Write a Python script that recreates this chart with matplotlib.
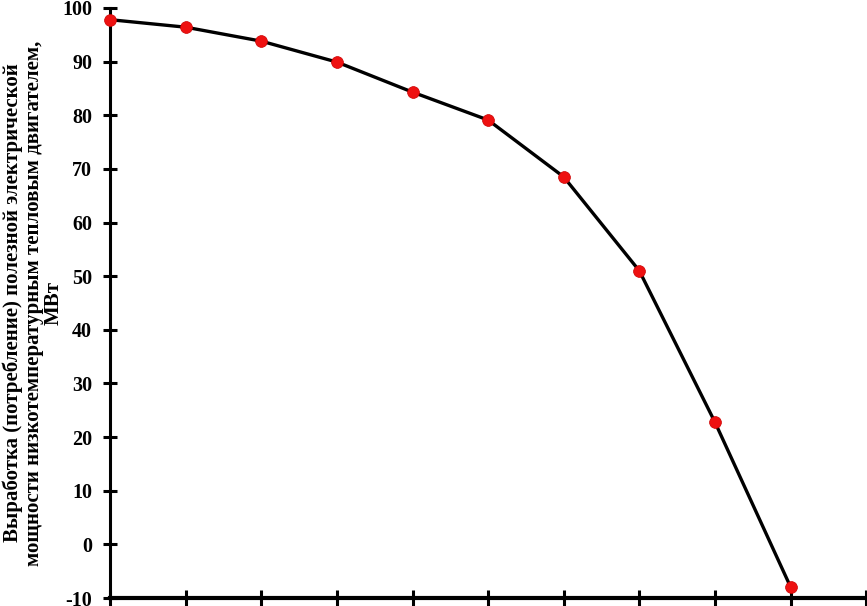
import matplotlib
matplotlib.use('Agg')
import matplotlib.pyplot as plt

# data
x_points = [0, 1, 2, 3, 4, 5, 6, 7, 8, 9]
power_mw = [97.8, 96.4, 93.8, 89.9, 84.3, 79.1, 68.5, 51.0, 22.8, -7.9]
y_ticks = [-10, 0, 10, 20, 30, 40, 50, 60, 70, 80, 90, 100]
y_label = ('Выработка (потребление) полезной электрической\n'
           'мощности низкотемпературным тепловым двигателем,\n'
           'МВт')

plt.rcParams['font.family'] = ['Liberation Serif', 'DejaVu Serif']
plt.rcParams['font.weight'] = 'bold'

fig = plt.figure(figsize=(8.67, 6.06), dpi=100)
ax = fig.add_axes([0.127, 0.013, 0.872, 0.974])

ax.plot(x_points, power_mw, color='black', linewidth=2.4, zorder=2)
ax.plot(x_points, power_mw, linestyle='none', marker='o', markersize=8.5,
        markerfacecolor='#ee1111', markeredgecolor='#cc0000', markeredgewidth=0.5,
        zorder=3, clip_on=False)

ax.set_xlim(0, 10)
ax.set_ylim(-10, 100)
ax.set_xticks(range(0, 11))
ax.set_xticklabels([])
ax.set_yticks(y_ticks)
ax.set_yticklabels([str(v) for v in y_ticks], fontsize=14.5, fontweight='bold')

ax.spines['top'].set_visible(False)
ax.spines['right'].set_visible(False)
ax.spines['left'].set_linewidth(2.2)
ax.spines['bottom'].set_linewidth(3)
ax.tick_params(axis='y', direction='inout', length=10, width=2.2, pad=8)
ax.tick_params(axis='x', direction='inout', length=12, width=2.2)

ax.set_ylabel(y_label, fontsize=15, fontweight='bold', linespacing=1.02)
ax.yaxis.set_label_coords(-0.061, 0.5)

fig.savefig('out.png', dpi=100)
